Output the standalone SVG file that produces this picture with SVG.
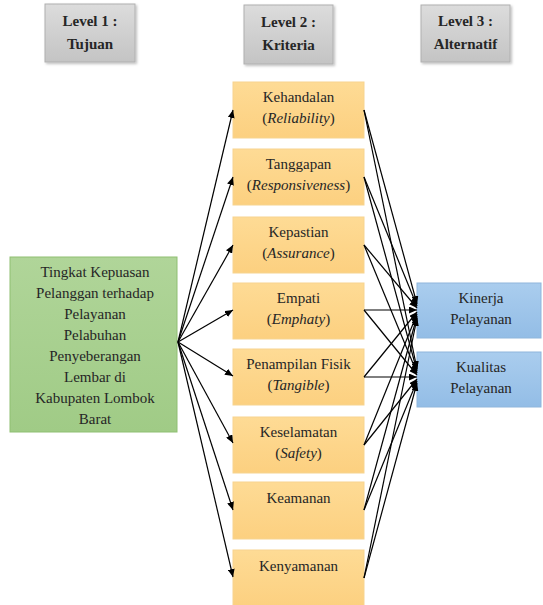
<svg xmlns="http://www.w3.org/2000/svg" width="543" height="605" viewBox="0 0 543 605">
<defs>
<linearGradient id="gGray" x1="0" y1="0" x2="0" y2="1"><stop offset="0" stop-color="#dcdcdc"/><stop offset="1" stop-color="#c4c4c4"/></linearGradient>
<linearGradient id="gOrange" x1="0" y1="0" x2="0" y2="1"><stop offset="0" stop-color="#fedb95"/><stop offset="1" stop-color="#fcd080"/></linearGradient>
<linearGradient id="gGreen" x1="0" y1="0" x2="0" y2="1"><stop offset="0" stop-color="#b0d599"/><stop offset="1" stop-color="#a0cb86"/></linearGradient>
<linearGradient id="gBlue" x1="0" y1="0" x2="0" y2="1"><stop offset="0" stop-color="#aacdee"/><stop offset="1" stop-color="#93bde6"/></linearGradient>
<filter id="sh" x="-10%" y="-10%" width="130%" height="130%"><feDropShadow dx="1.5" dy="1.5" stdDeviation="1" flood-color="#000" flood-opacity="0.25"/></filter>
<marker id="ah" markerUnits="userSpaceOnUse" markerWidth="9" markerHeight="7" refX="8" refY="3.5" orient="auto"><path d="M0,0 L8,3.5 L0,7 z" fill="#000"/></marker>
</defs>
<g font-family="Liberation Serif" font-size="15" text-anchor="middle" fill="#262626">
<g font-weight="bold">
<g id="level1"><rect fill="url(#gGray)" stroke="#b0b0b0" x="45" y="4" width="90" height="58" filter="url(#sh)"/><text x="90" y="26">Level 1 :</text><text x="90" y="49">Tujuan</text></g>
<g id="level2"><rect fill="url(#gGray)" stroke="#b0b0b0" x="244" y="5" width="89" height="59" filter="url(#sh)"/><text x="288.5" y="27">Level 2 :</text><text x="288.5" y="50">Kriteria</text></g>
<g id="level3"><rect fill="url(#gGray)" stroke="#b0b0b0" x="421" y="5" width="89" height="57" filter="url(#sh)"/><text x="465.5" y="26">Level 3 :</text><text x="465.5" y="49">Alternatif</text></g>
</g>
<g id="goal"><rect fill="url(#gGreen)" stroke="#8fbf72" x="10" y="257" width="167" height="175"/>
<text x="95" y="277">Tingkat Kepuasan</text><text x="95" y="298">Pelanggan terhadap</text><text x="95" y="319">Pelayanan</text><text x="95" y="340">Pelabuhan</text><text x="95" y="361">Penyeberangan</text><text x="95" y="382">Lembar di</text><text x="95" y="403">Kabupaten Lombok</text><text x="95" y="424">Barat</text></g>
<g id="kriteria-style">
<g id="k1"><rect fill="url(#gOrange)" stroke="#f7d48f" x="233" y="82" width="131" height="56"/><text x="298.5" y="102">Kehandalan</text><text x="298.5" y="123">(<tspan font-style="italic">Reliability</tspan>)</text></g>
<g id="k2"><rect fill="url(#gOrange)" stroke="#f7d48f" x="233" y="149" width="131" height="56"/><text x="298.5" y="169">Tanggapan</text><text x="298.5" y="190">(<tspan font-style="italic">Responsiveness</tspan>)</text></g>
<g id="k3"><rect fill="url(#gOrange)" stroke="#f7d48f" x="233" y="217" width="131" height="56"/><text x="298.5" y="237">Kepastian</text><text x="298.5" y="258">(<tspan font-style="italic">Assurance</tspan>)</text></g>
<g id="k4"><rect fill="url(#gOrange)" stroke="#f7d48f" x="233" y="283" width="131" height="56"/><text x="298.5" y="303">Empati</text><text x="298.5" y="324">(<tspan font-style="italic">Emphaty</tspan>)</text></g>
<g id="k5"><rect fill="url(#gOrange)" stroke="#f7d48f" x="233" y="349" width="131" height="56"/><text x="298.5" y="369">Penampilan Fisik</text><text x="298.5" y="390">(<tspan font-style="italic">Tangible</tspan>)</text></g>
<g id="k6"><rect fill="url(#gOrange)" stroke="#f7d48f" x="233" y="417" width="131" height="56"/><text x="298.5" y="437">Keselamatan</text><text x="298.5" y="458">(<tspan font-style="italic">Safety</tspan>)</text></g>
<g id="k7"><rect fill="url(#gOrange)" stroke="#f7d48f" x="233" y="482" width="131" height="57"/><text x="298.5" y="503">Keamanan</text></g>
<g id="k8"><rect fill="url(#gOrange)" stroke="#f7d48f" x="233" y="550" width="131" height="57"/><text x="298.5" y="571">Kenyamanan</text></g>
</g>
<g id="a1"><rect fill="url(#gBlue)" stroke="#8fb6dc" x="417" y="283" width="124" height="55"/><text x="481" y="303">Kinerja</text><text x="481" y="324">Pelayanan</text></g>
<g id="a2"><rect fill="url(#gBlue)" stroke="#8fb6dc" x="417" y="352" width="124" height="55"/><text x="481" y="372">Kualitas</text><text x="481" y="393">Pelayanan</text></g>
</g>
<g id="connectors" stroke="#000" stroke-width="1.2" marker-end="url(#ah)">
<line x1="178" y1="342" x2="233" y2="110"/>
<line x1="178" y1="342" x2="233" y2="177"/>
<line x1="178" y1="342" x2="233" y2="245"/>
<line x1="178" y1="342" x2="233" y2="310"/>
<line x1="178" y1="342" x2="233" y2="376"/>
<line x1="178" y1="342" x2="233" y2="443"/>
<line x1="178" y1="342" x2="233" y2="510"/>
<line x1="178" y1="342" x2="233" y2="577"/>
<line x1="364" y1="110" x2="417" y2="304"/>
<line x1="364" y1="177" x2="417" y2="306"/>
<line x1="364" y1="245" x2="417" y2="308"/>
<line x1="364" y1="310" x2="417" y2="310"/>
<line x1="364" y1="377" x2="417" y2="312"/>
<line x1="364" y1="445" x2="417" y2="314"/>
<line x1="364" y1="510" x2="417" y2="316"/>
<line x1="364" y1="578" x2="417" y2="318"/>
<line x1="364" y1="110" x2="417" y2="369"/>
<line x1="364" y1="177" x2="417" y2="371"/>
<line x1="364" y1="245" x2="417" y2="373"/>
<line x1="364" y1="310" x2="417" y2="375"/>
<line x1="364" y1="377" x2="417" y2="377"/>
<line x1="364" y1="445" x2="417" y2="379"/>
<line x1="364" y1="510" x2="417" y2="381"/>
<line x1="364" y1="578" x2="417" y2="383"/>
</g>
</svg>
